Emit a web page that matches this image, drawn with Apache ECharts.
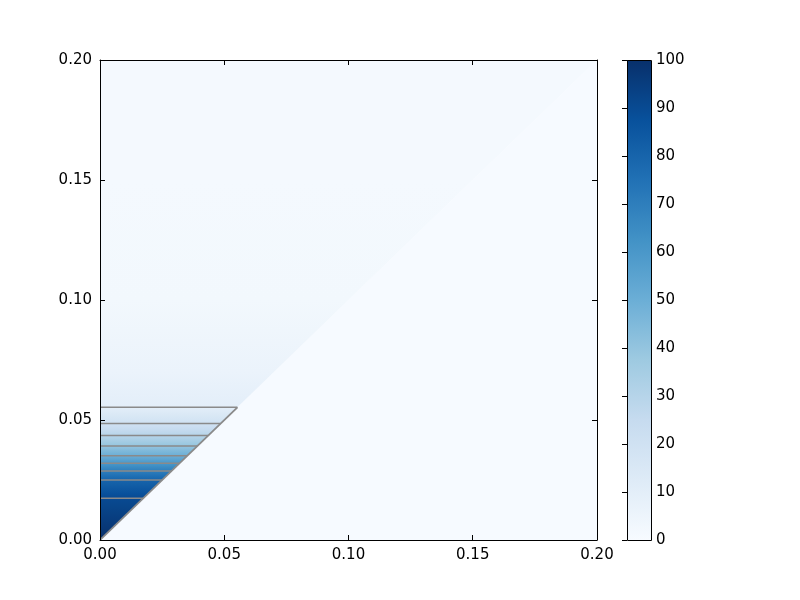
<!DOCTYPE html>
<html>
<head>
<meta charset="utf-8">
<script src="https://cdn.jsdelivr.net/npm/echarts@6/dist/echarts.min.js"></script>
<style>html,body{margin:0;padding:0;background:#fff}#c{width:800px;height:600px}</style>
</head>
<body>
<div id="c"></div>
<script>
// ---- data ----
// contour levels inside the upper-left triangle (x < y) and the y where each is reached
const levelValues = [100, 90, 80, 70, 60, 50, 40, 30, 20, 10];
const levelY = [0, 0.0174, 0.025, 0.0288, 0.032, 0.0351, 0.0392, 0.0435, 0.0485, 0.0553];
// faint profile above the last contour (x < y)
const upperY = [0.0553, 0.07, 0.1, 0.15, 0.2];
const upperValues = [10, 6, 2.5, 1.6, 1.3];
// value below the diagonal (x > y)
const lowerValue = 0.6;
const axisTicks = [0, 0.05, 0.1, 0.15, 0.2];
const colorbarTicks = [0, 10, 20, 30, 40, 50, 60, 70, 80, 90, 100];

// ---- styling ----
const blues = ['#f7fbff','#deebf7','#c6dbef','#9ecae1','#6baed6','#4292c6','#2171b5','#08519c','#08306b'];
function hex2rgb(h){return [parseInt(h.substr(1,2),16),parseInt(h.substr(3,2),16),parseInt(h.substr(5,2),16)];}
function cmap(v){
  let t = Math.max(0, Math.min(1, v / 100)) * (blues.length - 1);
  let i = Math.min(blues.length - 2, Math.floor(t)), f = t - i;
  const a = hex2rgb(blues[i]), b = hex2rgb(blues[i + 1]);
  return 'rgb(' + a.map((c, k) => Math.round(c + (b[k] - c) * f)).join(',') + ')';
}
const FONT = 'DejaVu Sans';
const FS = 15;
const xMax = axisTicks[axisTicks.length - 1];
const lineColor = '#8a8a8a';

function renderField(params, api) {
  const P = (x, y) => api.coord([x, y]);
  const children = [];
  const yTop = levelY[levelY.length - 1];
  // lower-right region
  children.push({type: 'polygon', shape: {points: [P(0,0), P(xMax,0), P(xMax,xMax)]},
    style: {fill: cmap(lowerValue)}});
  // upper region above last contour
  const span = upperY[upperY.length-1] - upperY[0];
  const ustops = upperY.map((y, k) => ({offset: (upperY[upperY.length-1] - y) / span, color: cmap(upperValues[k])})).reverse();
  children.push({type: 'polygon', shape: {points: [P(0,yTop), P(yTop,yTop), P(xMax,xMax), P(0,xMax)]},
    style: {fill: new echarts.graphic.LinearGradient(0,0,0,1, ustops)}});
  // bands inside triangle
  for (let i = 0; i < levelY.length - 1; i++) {
    const y0 = levelY[i], y1 = levelY[i+1];
    const v0 = levelValues[i], v1 = levelValues[i+1];
    const stops = [];
    for (let k = 0; k <= 4; k++) { const f = k/4; stops.push({offset: f, color: cmap(v1 + (v0 - v1) * f)}); }
    children.push({type: 'polygon', shape: {points: [P(0,y0), P(y0,y0), P(y1,y1), P(0,y1)]},
      style: {fill: new echarts.graphic.LinearGradient(0,0,0,1, stops), stroke: null}});
  }
  // contour lines
  for (let i = 1; i < levelY.length; i++) {
    children.push({type: 'line', shape: {x1: P(0,levelY[i])[0], y1: P(0,levelY[i])[1], x2: P(levelY[i],levelY[i])[0], y2: P(levelY[i],levelY[i])[1]},
      style: {stroke: lineColor, lineWidth: 1.5}});
  }
  const a = P(0,0), b = P(yTop,yTop);
  children.push({type: 'line', shape: {x1: a[0], y1: a[1], x2: b[0], y2: b[1]}, style: {stroke: lineColor, lineWidth: 1.8}});
  return {type: 'group', children};
}

function renderBar(params, api) {
  const tl = api.coord([0, 100]), br = api.coord([1, 0]);
  const stops = blues.map((c, i) => ({offset: 1 - i / (blues.length - 1), color: c})).reverse();
  const x0 = Math.round(tl[0]) + 0.5, y0 = Math.round(tl[1]) + 0.5;
  const x1 = Math.round(br[0]) + 0.5, y1 = Math.round(br[1]) + 0.5;
  return {type: 'group', children: [
    {type: 'rect', shape: {x: tl[0], y: tl[1], width: br[0]-tl[0], height: br[1]-tl[1]},
      style: {fill: new echarts.graphic.LinearGradient(0,0,0,1, stops)}},
    {type: 'polygon', z2: 10, shape: {points: [[x0,y0],[x1,y0],[x1,y1],[x0,y1]]},
      style: {fill: null, stroke: '#000', lineWidth: 1}}
  ]};
}

const mainAxisBase = {type: 'value', min: 0, max: xMax, interval: 0.05, z: 10,
  splitLine: {show: false},
  axisLine: {show: true, onZero: false, lineStyle: {color: '#000', width: 1}},
  axisTick: {show: true, inside: true, length: 5, lineStyle: {color: '#000'}},
  axisLabel: {show: true, color: '#000', fontFamily: FONT, fontSize: FS, margin: 8,
    formatter: v => v.toFixed(2)}};

const option = {
  animation: false,
  backgroundColor: '#fff',
  grid: [
    {left: 100, top: 60, width: 497, height: 480},
    {left: 627, top: 60, width: 24, height: 480}
  ],
  xAxis: [
    Object.assign({}, mainAxisBase, {gridIndex: 0, position: 'bottom'}),
    Object.assign({}, mainAxisBase, {gridIndex: 0, position: 'top', axisLabel: {show: false}}),
    {type: 'value', gridIndex: 1, min: 0, max: 1, show: false}
  ],
  yAxis: [
    Object.assign({}, mainAxisBase, {gridIndex: 0, position: 'left'}),
    Object.assign({}, mainAxisBase, {gridIndex: 0, position: 'right', axisLabel: {show: false}}),
    {type: 'value', gridIndex: 1, min: 0, max: 100, interval: 10, position: 'right', z: 10,
      splitLine: {show: false},
      axisLine: {show: false},
      axisTick: {show: true, inside: true, length: 5, lineStyle: {color: '#000'}},
      axisLabel: {color: '#000', fontFamily: FONT, fontSize: FS, margin: 5,
        formatter: v => String(v)}}
  ],
  series: [
    {type: 'custom', xAxisIndex: 0, yAxisIndex: 0, renderItem: renderField, data: [[0, 0]], clip: true, silent: true},
    {type: 'custom', xAxisIndex: 2, yAxisIndex: 2, renderItem: renderBar, data: [[0, 0]], silent: true}
  ]
};
echarts.init(document.getElementById('c'), null, {renderer: 'canvas'}).setOption(option);
</script>
</body>
</html>
